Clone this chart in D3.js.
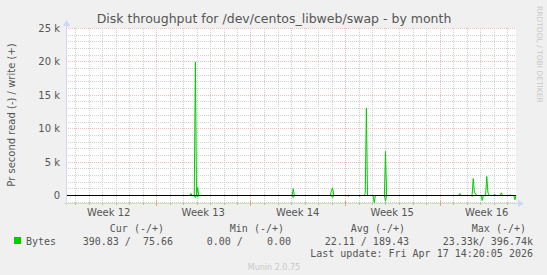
<!DOCTYPE html>
<html lang="en">
<head>
<meta charset="UTF-8">
<title>Disk throughput - by month</title>
<script src="https://d3js.org/d3.v7.min.js"></script>
<style>
  html, body { margin: 0; padding: 0; background: #f0f0f0; }
  svg { display: block; }
  text { font-family: "DejaVu Sans", sans-serif; }
  .mono { font-family: "DejaVu Sans Mono", monospace; white-space: pre; }
</style>
</head>
<body>
<div id="chart"></div>
<script>
// sample times (UTC) and values, write is plotted up, read is plotted down
const times = [
  "2026-03-16T08:00", "2026-03-25T12:00", "2026-03-25T14:00", "2026-03-25T16:00",
  "2026-03-25T20:00", "2026-03-25T22:00", "2026-03-26T00:00", "2026-03-26T02:00",
  "2026-03-26T04:00", "2026-04-02T02:00", "2026-04-02T04:00", "2026-04-02T06:00",
  "2026-04-04T22:00", "2026-04-05T00:00", "2026-04-05T02:00", "2026-04-05T04:00",
  "2026-04-06T04:00", "2026-04-06T06:00", "2026-04-06T08:00", "2026-04-07T00:00",
  "2026-04-07T02:00", "2026-04-07T04:00", "2026-04-07T10:00", "2026-04-07T12:00",
  "2026-04-07T14:00", "2026-04-07T16:00", "2026-04-08T02:00", "2026-04-08T04:00",
  "2026-04-08T06:00", "2026-04-08T22:00", "2026-04-09T00:00", "2026-04-09T02:00",
  "2026-04-14T10:00", "2026-04-14T12:00", "2026-04-14T14:00", "2026-04-15T08:00",
  "2026-04-15T10:00", "2026-04-15T12:00", "2026-04-15T14:00", "2026-04-15T16:00",
  "2026-04-15T18:00", "2026-04-16T02:00", "2026-04-16T04:00", "2026-04-16T06:00",
  "2026-04-16T10:00", "2026-04-16T12:00", "2026-04-16T14:00", "2026-04-16T16:00",
  "2026-04-17T00:00", "2026-04-17T02:00", "2026-04-17T04:00", "2026-04-17T12:00",
  "2026-04-17T14:00", "2026-04-17T16:00", "2026-04-18T04:00", "2026-04-18T06:00",
  "2026-04-18T08:00", "2026-04-18T12:00", "2026-04-18T14:00", "2026-04-18T16:00"
];
const writeVals = [
  0, 0, 300, 0,
  0, 20000, 0, 1200,
  0, 0, 1000, 0,
  0, 800, 1150, 0,
  0, 0, 0, 0,
  0, 0, 0, 300,
  13100, 0, 0, 0,
  0, 0, 6600, 0,
  0, 300, 0, 0,
  100, 2550, 400, 300,
  0, 0, 0, 0,
  0, 2850, 500, 0,
  0, 200, 0, 0,
  400, 0, 0, 100,
  0, 0, 0, 0
];
const readVals = [
  0, 0, 0, 0,
  0, 300, 0, 200,
  0, 0, 300, 0,
  0, 100, 300, 0,
  0, 150, 0, 0,
  150, 0, 0, 0,
  0, 0, 0, 1100,
  0, 0, 850, 0,
  0, 0, 0, 0,
  100, 0, 0, 0,
  0, 0, 750, 0,
  0, 0, 0, 0,
  0, 0, 0, 0,
  0, 0, 0, 0,
  0, 0, 650, 0
];

const yTicks = [0, 5000, 10000, 15000, 20000, 25000];
const yTickLabels = ["0", "5 k", "10 k", "15 k", "20 k", "25 k"];
const weekStarts = ["2026-03-16", "2026-03-23", "2026-03-30", "2026-04-06", "2026-04-13"];
const weekLabels = ["Week 12", "Week 13", "Week 14", "Week 15", "Week 16"];

const legendHeaders = ["Cur (-/+)", "Min (-/+)", "Avg (-/+)", "Max (-/+)"];
const legendValues = ["390.83 /  75.66", "0.00 /    0.00", "22.11 / 189.43", "23.33k/ 396.74k"];

const W = 547, H = 275;
const plot = { left: 66, right: 516, top: 28, bottom: 203 };
const green = "#00cc00";
const axisColor = "#cfd6f8";
const minorColor = "#d0d0d0";
const majorColor = "#f0baba";

const parse = d3.utcParse("%Y-%m-%dT%H:%M");
const data = times.map((t, i) => ({ t: parse(t), w: writeVals[i], r: readVals[i] }));

const x = d3.scaleUtc()
  .domain([new Date(Date.UTC(2026, 2, 16, 8)), new Date(Date.UTC(2026, 3, 18, 16))])
  .range([plot.left, plot.right]);

const y = d3.scaleLinear()
  .domain([-1200, 25000])
  .range([plot.bottom, plot.top]);

const svg = d3.select("#chart").append("svg")
  .attr("width", W).attr("height", H);

svg.append("rect").attr("width", W).attr("height", H).attr("fill", "#f0f0f0");
svg.append("rect")
  .attr("x", plot.left).attr("y", plot.top)
  .attr("width", plot.right - plot.left).attr("height", plot.bottom - plot.top)
  .attr("fill", "#ffffff");

// minor grid: every 1k and every day
const minorY = d3.range(-1000, 25001, 1000).filter(v => v % 5000 !== 0);
const days = d3.utcDay.range(x.domain()[0], x.domain()[1]).filter(d => d.getUTCDay() !== 1);
const grid = svg.append("g").attr("shape-rendering", "crispEdges");
grid.selectAll("line.hy").data(minorY).join("line")
  .attr("x1", plot.left).attr("x2", plot.right)
  .attr("y1", d => Math.round(y(d)) + 0.5).attr("y2", d => Math.round(y(d)) + 0.5)
  .attr("stroke", minorColor).attr("stroke-dasharray", "1,1");
grid.selectAll("line.vx").data(days).join("line")
  .attr("x1", d => Math.round(x(d)) + 0.5).attr("x2", d => Math.round(x(d)) + 0.5)
  .attr("y1", plot.top).attr("y2", plot.bottom)
  .attr("stroke", minorColor).attr("stroke-dasharray", "1,1");

// major grid: every 5k and every week
const weeks = weekStarts.map(d3.utcParse("%Y-%m-%d"));
grid.selectAll("line.my").data(yTicks).join("line")
  .attr("x1", plot.left).attr("x2", plot.right)
  .attr("y1", d => Math.round(y(d)) + 0.5).attr("y2", d => Math.round(y(d)) + 0.5)
  .attr("stroke", majorColor).attr("stroke-dasharray", "1,1");
grid.selectAll("line.mx").data(weeks.filter(d => x(d) > plot.left)).join("line")
  .attr("x1", d => Math.round(x(d)) + 0.5).attr("x2", d => Math.round(x(d)) + 0.5)
  .attr("y1", plot.top).attr("y2", plot.bottom)
  .attr("stroke", majorColor).attr("stroke-dasharray", "1,1");

// series (shifted half a pixel so the zero part sits under the black rule)
const lineW = d3.line().x(d => x(d.t)).y(d => y(d.w));
const lineR = d3.line().x(d => x(d.t)).y(d => y(-d.r));
const series = svg.append("g").attr("transform", "translate(0,0.5)");
series.append("path").datum(data).attr("d", lineR)
  .attr("fill", "none").attr("stroke", green).attr("stroke-width", 1);
series.append("path").datum(data).attr("d", lineW)
  .attr("fill", "none").attr("stroke", green).attr("stroke-width", 1);

// zero rule
svg.append("line")
  .attr("x1", plot.left).attr("x2", plot.right)
  .attr("y1", Math.round(y(0)) + 0.5).attr("y2", Math.round(y(0)) + 0.5)
  .attr("stroke", "#000").attr("shape-rendering", "crispEdges");

// axes lines + arrows
const ax = svg.append("g").attr("shape-rendering", "crispEdges");
ax.append("line")
  .attr("x1", plot.left - 2).attr("x2", plot.right + 3)
  .attr("y1", plot.bottom + 0.5).attr("y2", plot.bottom + 0.5)
  .attr("stroke", axisColor);
ax.append("line")
  .attr("x1", plot.left + 0.5).attr("x2", plot.left + 0.5)
  .attr("y1", plot.top - 4).attr("y2", plot.bottom + 2)
  .attr("stroke", axisColor);
svg.append("path")
  .attr("d", `M${plot.right + 2},${plot.bottom - 3}L${plot.right + 8},${plot.bottom + 0.5}L${plot.right + 2},${plot.bottom + 4}Z`)
  .attr("fill", axisColor);
svg.append("path")
  .attr("d", `M${plot.left - 3},${plot.top - 2}L${plot.left + 0.5},${plot.top - 8}L${plot.left + 4},${plot.top - 2}Z`)
  .attr("fill", axisColor);

// x axis tick marks
ax.selectAll("line.tx").data(days).join("line")
  .attr("x1", d => Math.round(x(d)) + 0.5).attr("x2", d => Math.round(x(d)) + 0.5)
  .attr("y1", plot.bottom - 1).attr("y2", plot.bottom + 2)
  .attr("stroke", "#bbbbbb");
ax.selectAll("line.tw").data(weeks.filter(d => x(d) > plot.left)).join("line")
  .attr("x1", d => Math.round(x(d)) + 0.5).attr("x2", d => Math.round(x(d)) + 0.5)
  .attr("y1", plot.bottom - 2).attr("y2", plot.bottom + 3)
  .attr("stroke", "#ee9999");

// y tick labels
svg.append("g").selectAll("text").data(yTicks).join("text")
  .attr("x", 60).attr("y", d => y(d) + 4)
  .attr("text-anchor", "end").attr("font-size", 10).attr("fill", "#555")
  .text((d, i) => yTickLabels[i]);

// week labels centred in each week
svg.append("g").selectAll("text").data(weeks).join("text")
  .attr("x", d => x(d3.utcHour.offset(d, 84)))
  .attr("y", 216)
  .attr("text-anchor", "middle").attr("font-size", 10).attr("fill", "#555")
  .text((d, i) => weekLabels[i]);

// title
svg.append("text")
  .attr("x", 274).attr("y", 23)
  .attr("text-anchor", "middle").attr("font-size", 12.5).attr("fill", "#555")
  .text("Disk throughput for /dev/centos_libweb/swap - by month");

// y label
svg.append("text")
  .attr("transform", "translate(15,115) rotate(-90)")
  .attr("text-anchor", "middle").attr("font-size", 10).attr("fill", "#555")
  .text("Pr second read (-) / write (+)");

// side watermark
svg.append("text")
  .attr("transform", "translate(537,6) rotate(90)")
  .attr("font-size", 7.5).attr("fill", "#c8c8c8")
  .text("RRDTOOL / TOBI OETIKER");

// legend
const headEnds = [164, 284, 405, 526];
const valEnds = [173, 291, 409, 533];
svg.append("g").selectAll("text").data(legendHeaders).join("text")
  .attr("class", "mono").attr("x", (d, i) => headEnds[i]).attr("y", 232)
  .attr("text-anchor", "end").attr("font-size", 10).attr("fill", "#555")
  .text(d => d);
svg.append("rect").attr("x", 14).attr("y", 237).attr("width", 7).attr("height", 7).attr("fill", green);
svg.append("text").attr("class", "mono").attr("x", 26).attr("y", 245)
  .attr("font-size", 10).attr("fill", "#555").text("Bytes");
svg.append("g").selectAll("text").data(legendValues).join("text")
  .attr("class", "mono").attr("x", (d, i) => valEnds[i]).attr("y", 245)
  .attr("text-anchor", "end").attr("font-size", 10).attr("fill", "#555")
  .text(d => d);
svg.append("text").attr("class", "mono").attr("x", 533).attr("y", 257)
  .attr("text-anchor", "end").attr("font-size", 10).attr("fill", "#555")
  .text("Last update: Fri Apr 17 14:20:05 2026");
svg.append("text").attr("x", 274).attr("y", 270)
  .attr("text-anchor", "middle").attr("font-size", 8).attr("fill", "#c8c8c8")
  .text("Munin 2.0.75");
</script>
</body>
</html>
